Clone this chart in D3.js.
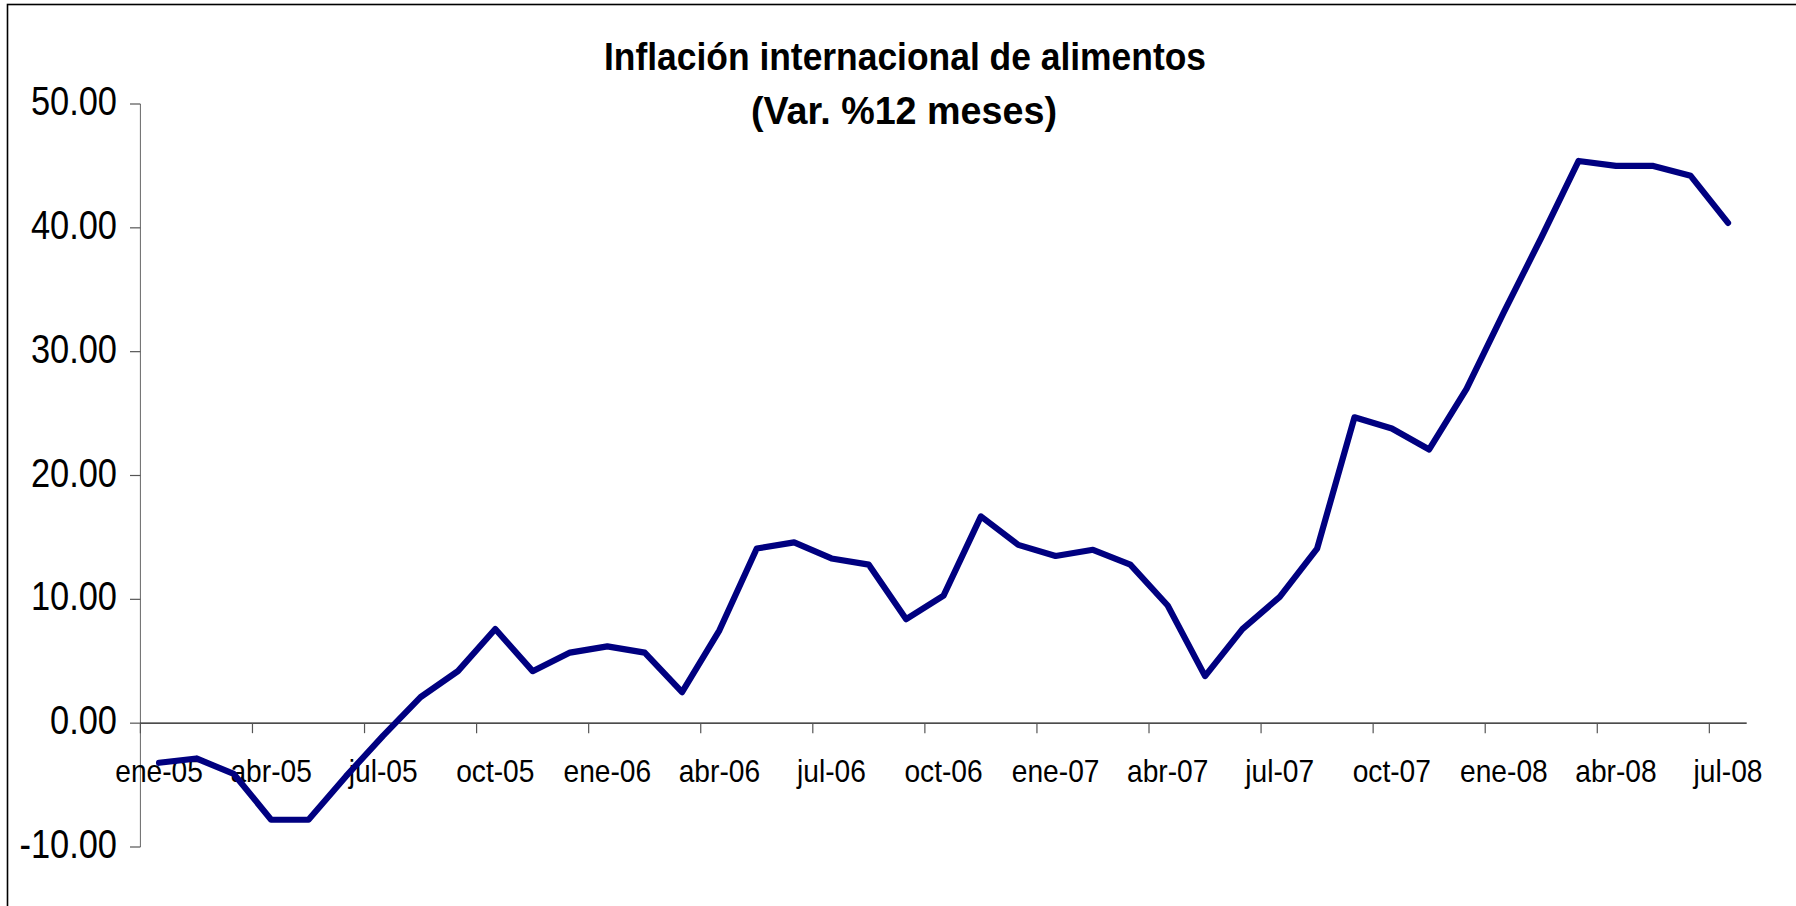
<!DOCTYPE html>
<html>
<head>
<meta charset="utf-8">
<script src="https://cdn.jsdelivr.net/npm/d3@7"></script>
<style>
  html, body { margin: 0; padding: 0; background: #fff; overflow: hidden; }
  svg { display: block; font-family: "Liberation Sans", Arial, sans-serif; }
</style>
</head>
<body>
<svg id="chart" width="1796" height="906"></svg>
<script>
const titleLines = ["Inflación internacional de alimentos", "(Var. %12 meses)"];
const months = ["ene","feb","mar","abr","may","jun","jul","ago","sep","oct","nov","dic"];
const years = ["05","06","07","08"];
const categories = [];
years.forEach(y => months.forEach(m => categories.push(m + "-" + y)));
categories.splice(43); // ene-05 .. jul-08

const values = [
  -3.2, -2.85, -4.1, -7.8, -7.8, -4.3, -1.0, 2.1, 4.2, 7.6, 4.2, 5.7,
  6.2, 5.7, 2.5, 7.5, 14.1, 14.6, 13.3, 12.8, 8.4, 10.3, 16.7, 14.4,
  13.5, 14.0, 12.8, 9.5, 3.8, 7.6, 10.2, 14.1, 24.7, 23.8, 22.1, 27.0,
  33.2, 39.2, 45.4, 45.0, 45.0, 44.2, 40.4
];
const yTicks = [-10, 0, 10, 20, 30, 40, 50];
const yTickLabels = ["-10.00", "0.00", "10.00", "20.00", "30.00", "40.00", "50.00"];
const xLabelEvery = 3;

const svg = d3.select("#chart");

// frame
svg.append("rect")
  .attr("x", 7.5).attr("y", 4.5)
  .attr("width", 1900).attr("height", 1000)
  .attr("fill", "none").attr("stroke", "#000").attr("stroke-width", 1.6);

const x = d3.scaleBand().domain(categories).range([140.4, 1746.7]).paddingInner(0).paddingOuter(0);
const y = d3.scaleLinear().domain([-10, 50]).range([847, 104]);

function condense(sel, ratio) {
  sel.each(function() {
    const w = this.getComputedTextLength();
    d3.select(this).attr("textLength", w * ratio).attr("lengthAdjust", "spacingAndGlyphs");
  });
}

// y axis
const yAxis = svg.append("g");
yAxis.append("line")
  .attr("x1", x.range()[0]).attr("x2", x.range()[0])
  .attr("y1", y(50)).attr("y2", y(-10))
  .attr("stroke", "#666").attr("stroke-width", 1);
yAxis.selectAll("line.tick").data(yTicks).join("line")
  .attr("class", "tick")
  .attr("x1", 130).attr("x2", x.range()[0])
  .attr("y1", d => y(d)).attr("y2", d => y(d))
  .attr("stroke", "#555").attr("stroke-width", 1.2);
yAxis.selectAll("text").data(yTicks).join("text")
  .attr("x", 117).attr("y", d => y(d) + 11)
  .attr("text-anchor", "end")
  .attr("font-size", 40)
  .attr("fill", "#000")
  .text((d, i) => yTickLabels[i])
  .call(condense, 0.86);

// x axis at 0
const xAxis = svg.append("g");
xAxis.append("line")
  .attr("x1", x.range()[0]).attr("x2", x.range()[1])
  .attr("y1", y(0)).attr("y2", y(0))
  .attr("stroke", "#111").attr("stroke-width", 1.4);
const labeled = categories.filter((c, i) => i % xLabelEvery === 0);
xAxis.selectAll("line.tick").data(labeled).join("line")
  .attr("class", "tick")
  .attr("x1", d => x(d)).attr("x2", d => x(d))
  .attr("y1", y(0)).attr("y2", y(0) + 10)
  .attr("stroke", "#555").attr("stroke-width", 1.2);
xAxis.selectAll("text").data(labeled).join("text")
  .attr("x", d => x(d) + x.bandwidth() / 2)
  .attr("y", y(0) + 59)
  .attr("text-anchor", "middle")
  .attr("font-size", 32)
  .attr("fill", "#000")
  .text(d => d)
  .call(condense, 0.88);

// line
const line = d3.line()
  .x((d, i) => x(categories[i]) + x.bandwidth() / 2)
  .y(d => y(d));
svg.append("path")
  .datum(values)
  .attr("d", line)
  .attr("fill", "none")
  .attr("stroke", "#000080")
  .attr("stroke-width", 6.2)
  .attr("stroke-linejoin", "round")
  .attr("stroke-linecap", "round");

// title
const title = svg.append("g");
title.append("text")
  .attr("x", 905).attr("y", 70)
  .attr("text-anchor", "middle")
  .attr("font-size", 38).attr("font-weight", "bold")
  .attr("textLength", 602).attr("lengthAdjust", "spacingAndGlyphs")
  .text(titleLines[0]);
title.append("text")
  .attr("x", 904).attr("y", 124)
  .attr("text-anchor", "middle")
  .attr("font-size", 38).attr("font-weight", "bold")
  .attr("textLength", 306).attr("lengthAdjust", "spacingAndGlyphs")
  .text(titleLines[1]);
</script>
</body>
</html>
